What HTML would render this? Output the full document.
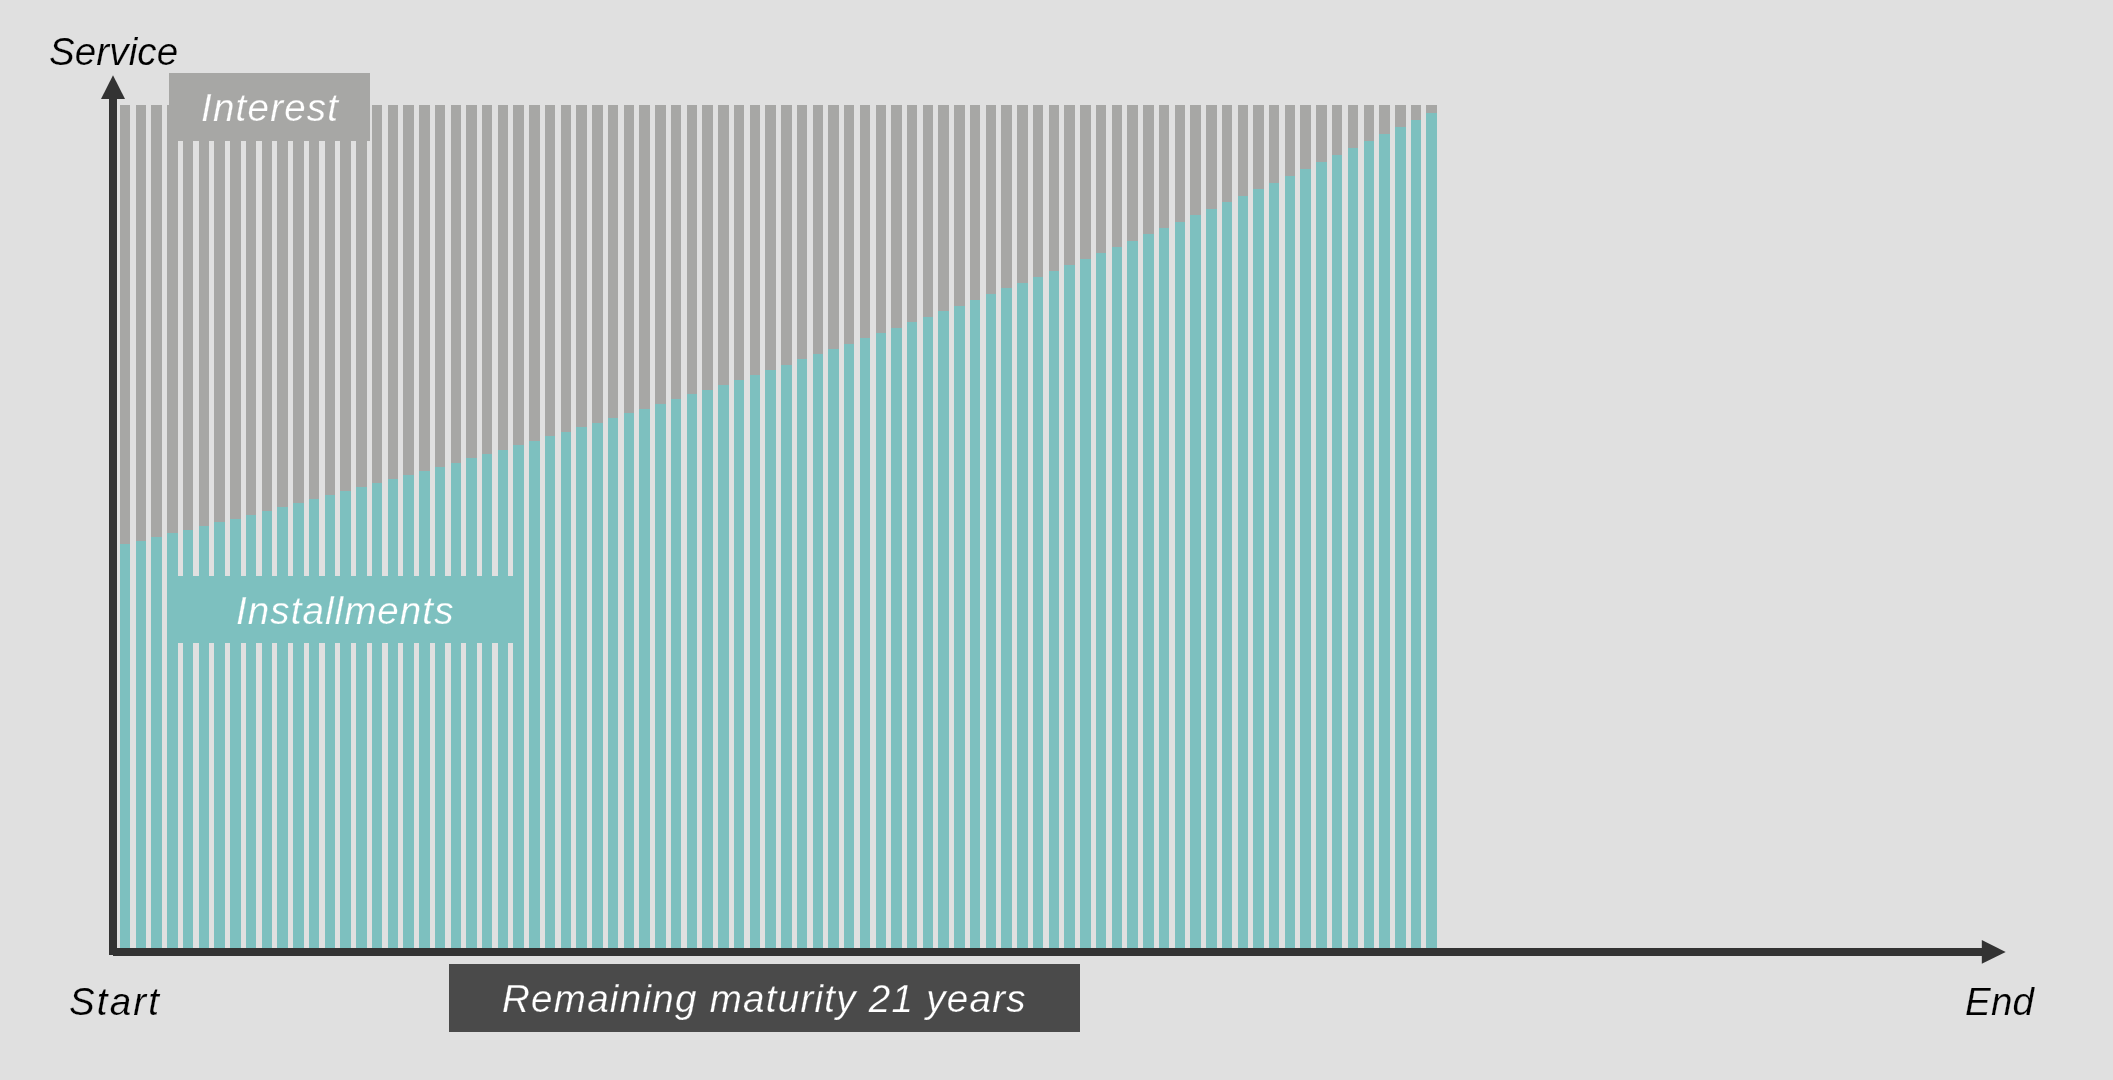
<!DOCTYPE html>
<html><head><meta charset="utf-8">
<style>
html,body{margin:0;padding:0;}
body{width:2113px;height:1080px;background:#e0e0e0;position:relative;overflow:hidden;font-family:"Liberation Sans",sans-serif;font-style:italic;}
svg{position:absolute;left:0;top:0;}
.t{position:absolute;white-space:nowrap;line-height:1;will-change:transform;}
</style></head><body>
<svg width="2113" height="1080" viewBox="0 0 2113 1080" shape-rendering="crispEdges">
<g fill="#a7a7a5"><rect x="120" y="105" width="10" height="439"/><rect x="136" y="105" width="10" height="436"/><rect x="151" y="105" width="11" height="432"/><rect x="167" y="105" width="11" height="428"/><rect x="183" y="105" width="10" height="425"/><rect x="199" y="105" width="10" height="421"/><rect x="214" y="105" width="11" height="417"/><rect x="230" y="105" width="11" height="414"/><rect x="246" y="105" width="10" height="410"/><rect x="262" y="105" width="10" height="406"/><rect x="277" y="105" width="11" height="402"/><rect x="293" y="105" width="11" height="398"/><rect x="309" y="105" width="10" height="394"/><rect x="325" y="105" width="10" height="390"/><rect x="340" y="105" width="11" height="386"/><rect x="356" y="105" width="11" height="382"/><rect x="372" y="105" width="10" height="378"/><rect x="388" y="105" width="10" height="374"/><rect x="403" y="105" width="11" height="370"/><rect x="419" y="105" width="11" height="366"/><rect x="435" y="105" width="10" height="362"/><rect x="451" y="105" width="10" height="358"/><rect x="466" y="105" width="11" height="353"/><rect x="482" y="105" width="10" height="349"/><rect x="498" y="105" width="10" height="345"/><rect x="513" y="105" width="11" height="340"/><rect x="529" y="105" width="11" height="336"/><rect x="545" y="105" width="10" height="331"/><rect x="561" y="105" width="10" height="327"/><rect x="576" y="105" width="11" height="322"/><rect x="592" y="105" width="11" height="318"/><rect x="608" y="105" width="10" height="313"/><rect x="624" y="105" width="10" height="308"/><rect x="639" y="105" width="11" height="304"/><rect x="655" y="105" width="11" height="299"/><rect x="671" y="105" width="10" height="294"/><rect x="687" y="105" width="10" height="289"/><rect x="702" y="105" width="11" height="285"/><rect x="718" y="105" width="11" height="280"/><rect x="734" y="105" width="10" height="275"/><rect x="750" y="105" width="10" height="270"/><rect x="765" y="105" width="11" height="265"/><rect x="781" y="105" width="11" height="260"/><rect x="797" y="105" width="10" height="254"/><rect x="813" y="105" width="10" height="249"/><rect x="828" y="105" width="11" height="244"/><rect x="844" y="105" width="10" height="239"/><rect x="860" y="105" width="10" height="233"/><rect x="876" y="105" width="10" height="228"/><rect x="891" y="105" width="11" height="223"/><rect x="907" y="105" width="10" height="217"/><rect x="923" y="105" width="10" height="212"/><rect x="938" y="105" width="11" height="206"/><rect x="954" y="105" width="11" height="201"/><rect x="970" y="105" width="10" height="195"/><rect x="986" y="105" width="10" height="189"/><rect x="1001" y="105" width="11" height="183"/><rect x="1017" y="105" width="11" height="178"/><rect x="1033" y="105" width="10" height="172"/><rect x="1049" y="105" width="10" height="166"/><rect x="1064" y="105" width="11" height="160"/><rect x="1080" y="105" width="11" height="154"/><rect x="1096" y="105" width="10" height="148"/><rect x="1112" y="105" width="10" height="142"/><rect x="1127" y="105" width="11" height="136"/><rect x="1143" y="105" width="11" height="129"/><rect x="1159" y="105" width="10" height="123"/><rect x="1175" y="105" width="10" height="117"/><rect x="1190" y="105" width="11" height="110"/><rect x="1206" y="105" width="11" height="104"/><rect x="1222" y="105" width="10" height="97"/><rect x="1238" y="105" width="10" height="91"/><rect x="1253" y="105" width="11" height="84"/><rect x="1269" y="105" width="10" height="78"/><rect x="1285" y="105" width="10" height="71"/><rect x="1300" y="105" width="11" height="64"/><rect x="1316" y="105" width="11" height="57"/><rect x="1332" y="105" width="10" height="50"/><rect x="1348" y="105" width="10" height="43"/><rect x="1364" y="105" width="10" height="36"/><rect x="1379" y="105" width="11" height="29"/><rect x="1395" y="105" width="11" height="22"/><rect x="1411" y="105" width="10" height="15"/><rect x="1426" y="105" width="11" height="8"/></g>
<g fill="#7dc0bf"><rect x="120" y="544" width="10" height="404"/><rect x="136" y="541" width="10" height="407"/><rect x="151" y="537" width="11" height="411"/><rect x="167" y="533" width="11" height="415"/><rect x="183" y="530" width="10" height="418"/><rect x="199" y="526" width="10" height="422"/><rect x="214" y="522" width="11" height="426"/><rect x="230" y="519" width="11" height="429"/><rect x="246" y="515" width="10" height="433"/><rect x="262" y="511" width="10" height="437"/><rect x="277" y="507" width="11" height="441"/><rect x="293" y="503" width="11" height="445"/><rect x="309" y="499" width="10" height="449"/><rect x="325" y="495" width="10" height="453"/><rect x="340" y="491" width="11" height="457"/><rect x="356" y="487" width="11" height="461"/><rect x="372" y="483" width="10" height="465"/><rect x="388" y="479" width="10" height="469"/><rect x="403" y="475" width="11" height="473"/><rect x="419" y="471" width="11" height="477"/><rect x="435" y="467" width="10" height="481"/><rect x="451" y="463" width="10" height="485"/><rect x="466" y="458" width="11" height="490"/><rect x="482" y="454" width="10" height="494"/><rect x="498" y="450" width="10" height="498"/><rect x="513" y="445" width="11" height="503"/><rect x="529" y="441" width="11" height="507"/><rect x="545" y="436" width="10" height="512"/><rect x="561" y="432" width="10" height="516"/><rect x="576" y="427" width="11" height="521"/><rect x="592" y="423" width="11" height="525"/><rect x="608" y="418" width="10" height="530"/><rect x="624" y="413" width="10" height="535"/><rect x="639" y="409" width="11" height="539"/><rect x="655" y="404" width="11" height="544"/><rect x="671" y="399" width="10" height="549"/><rect x="687" y="394" width="10" height="554"/><rect x="702" y="390" width="11" height="558"/><rect x="718" y="385" width="11" height="563"/><rect x="734" y="380" width="10" height="568"/><rect x="750" y="375" width="10" height="573"/><rect x="765" y="370" width="11" height="578"/><rect x="781" y="365" width="11" height="583"/><rect x="797" y="359" width="10" height="589"/><rect x="813" y="354" width="10" height="594"/><rect x="828" y="349" width="11" height="599"/><rect x="844" y="344" width="10" height="604"/><rect x="860" y="338" width="10" height="610"/><rect x="876" y="333" width="10" height="615"/><rect x="891" y="328" width="11" height="620"/><rect x="907" y="322" width="10" height="626"/><rect x="923" y="317" width="10" height="631"/><rect x="938" y="311" width="11" height="637"/><rect x="954" y="306" width="11" height="642"/><rect x="970" y="300" width="10" height="648"/><rect x="986" y="294" width="10" height="654"/><rect x="1001" y="288" width="11" height="660"/><rect x="1017" y="283" width="11" height="665"/><rect x="1033" y="277" width="10" height="671"/><rect x="1049" y="271" width="10" height="677"/><rect x="1064" y="265" width="11" height="683"/><rect x="1080" y="259" width="11" height="689"/><rect x="1096" y="253" width="10" height="695"/><rect x="1112" y="247" width="10" height="701"/><rect x="1127" y="241" width="11" height="707"/><rect x="1143" y="234" width="11" height="714"/><rect x="1159" y="228" width="10" height="720"/><rect x="1175" y="222" width="10" height="726"/><rect x="1190" y="215" width="11" height="733"/><rect x="1206" y="209" width="11" height="739"/><rect x="1222" y="202" width="10" height="746"/><rect x="1238" y="196" width="10" height="752"/><rect x="1253" y="189" width="11" height="759"/><rect x="1269" y="183" width="10" height="765"/><rect x="1285" y="176" width="10" height="772"/><rect x="1300" y="169" width="11" height="779"/><rect x="1316" y="162" width="11" height="786"/><rect x="1332" y="155" width="10" height="793"/><rect x="1348" y="148" width="10" height="800"/><rect x="1364" y="141" width="10" height="807"/><rect x="1379" y="134" width="11" height="814"/><rect x="1395" y="127" width="11" height="821"/><rect x="1411" y="120" width="10" height="828"/><rect x="1426" y="113" width="11" height="835"/></g>
<rect x="169" y="73" width="201" height="68" fill="#a7a7a5"/>
<rect x="169" y="576" width="352" height="67" fill="#7dc0bf"/>
<rect x="449" y="964" width="631" height="68" fill="#4a4a4a"/>
<g fill="#333333">
<rect x="109" y="98" width="8" height="857"/>
<rect x="113" y="948" width="1870" height="8"/>
</g>
<g fill="#333333" shape-rendering="geometricPrecision">
<polygon points="101,99 113,75.3 125,99"/>
<polygon points="1981.8,940 2005.7,952 1981.8,963.7"/>
</g>
</svg>
<div class="t" style="left:49.2px;top:33px;font-size:38.5px;letter-spacing:0.13px;color:#000;-webkit-text-stroke:0.2px #e0e0e0">Service</div>
<div class="t" style="left:200.9px;top:89px;font-size:38.5px;letter-spacing:1.23px;color:#fff;-webkit-text-stroke:0.25px #a7a7a5">Interest</div>
<div class="t" style="left:235.7px;top:592px;font-size:38.5px;letter-spacing:1.09px;color:#fff;-webkit-text-stroke:0.25px #7dc0bf">Installments</div>
<div class="t" style="left:68.9px;top:982.8px;font-size:38.5px;letter-spacing:2.15px;color:#000;-webkit-text-stroke:0.2px #e0e0e0">Start</div>
<div class="t" style="left:1964.5px;top:983.2px;font-size:38.5px;letter-spacing:0.2px;color:#000;-webkit-text-stroke:0.2px #e0e0e0">End</div>
<div class="t" style="left:501.6px;top:980px;font-size:38.5px;letter-spacing:1.29px;color:#fff;-webkit-text-stroke:0.25px #4a4a4a">Remaining maturity 21 years</div>
</body></html>
